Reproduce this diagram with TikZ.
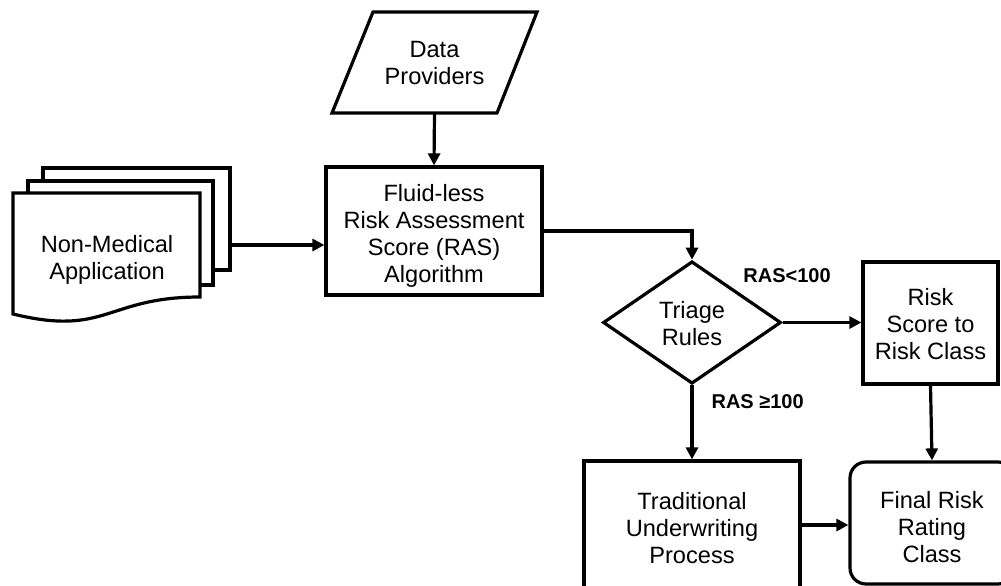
\documentclass[tikz,border=0pt]{standalone}
\usepackage{fontspec}
\setmainfont{Liberation Sans}
\usetikzlibrary{shapes.geometric,arrows.meta}
% line-box struts: extra room above the first line lowers the text block a little
\newcommand{\ascstrut}[1][0pt]{\rule{0pt}{\dimexpr0.905em+6pt+#1\relax}}
\newcommand{\descstrut}{\rule[-0.212em]{0pt}{0.212em}}
\begin{document}
\begin{tikzpicture}[x=1pt,y=-1pt,
  line width=3.2pt,
  every node/.style={font=\fontsize{23.6}{27}\selectfont, align=center, inner sep=0pt},
  procbox/.style={draw, fill=white, rectangle},
  endbox/.style={draw, fill=white, rectangle, rounded corners=16pt},
  decision/.style={draw, fill=white, diamond},
  condlabel/.style={font=\bfseries\fontsize{20}{24}\selectfont},
  flow/.style={-{Triangle[length=12pt,width=12pt]}}
]
\useasboundingbox (0,0) rectangle (1001,586);

% data source (parallelogram)
\draw[fill=white] (373,12) -- (537,12) -- (497,113) -- (332,113) -- cycle;
\node[minimum width=164pt, minimum height=97pt] (dp) at (434.5,62.5)
  {\ascstrut[-5pt]Data\\Providers\descstrut};

% stacked application forms
\draw[fill=white] (43,168) rectangle (230,270);
\draw[fill=white] (28,181) rectangle (213,285);
\draw[fill=white] (13,193) -- (200,193) -- (200,297)
  .. controls (106.5,297) and (106.5,337) .. (13,314) -- cycle;
\node (doc) at (107,254.5) {\ascstrut Non-Medical\\Application\descstrut};
\coordinate (docout) at (230,245);

% process steps
\node[procbox, minimum width=216pt, minimum height=128pt] (fras) at (434,231)
  {\ascstrut Fluid-less\\Risk Assessment\\Score (RAS)\\Algorithm\descstrut};
\node[decision, minimum width=178pt, minimum height=119pt] (tri) at (692,322.5)
  {\ascstrut[-3pt]Triage\\Rules\descstrut};
\node[procbox, minimum width=135pt, minimum height=122pt] (rsc) at (930.5,323)
  {\ascstrut[-3pt]Risk\\Score to\\Risk Class\descstrut};
\node[procbox, minimum width=216pt, minimum height=128pt] (trad) at (692,525)
  {\ascstrut Traditional\\Underwriting\\Process\descstrut};
\node[endbox, minimum width=164pt, minimum height=122pt] (final) at (932,523)
  {\ascstrut[2pt]Final Risk\\Rating\\Class\descstrut};

% connectors
\draw[flow] (dp.south) -- (fras.north);
\draw[flow] (docout) -- (fras.west |- docout);
\draw[flow] (fras.east) -| (tri.north);
\draw[flow] (tri.east) -- (rsc.west |- tri.east);
\draw[flow] (tri.south) -- (trad.north);
\draw[flow] (rsc.south) -- (final.north);
\draw[flow] (trad.east) -- (final.west |- trad.east);

% branch conditions
\node[condlabel] (lt) at (787,273) {\ascstrut RAS<100\descstrut};
\node[condlabel, anchor=west] (ge) at (710,399) {\ascstrut RAS ≥100\descstrut};
\end{tikzpicture}
\end{document}
